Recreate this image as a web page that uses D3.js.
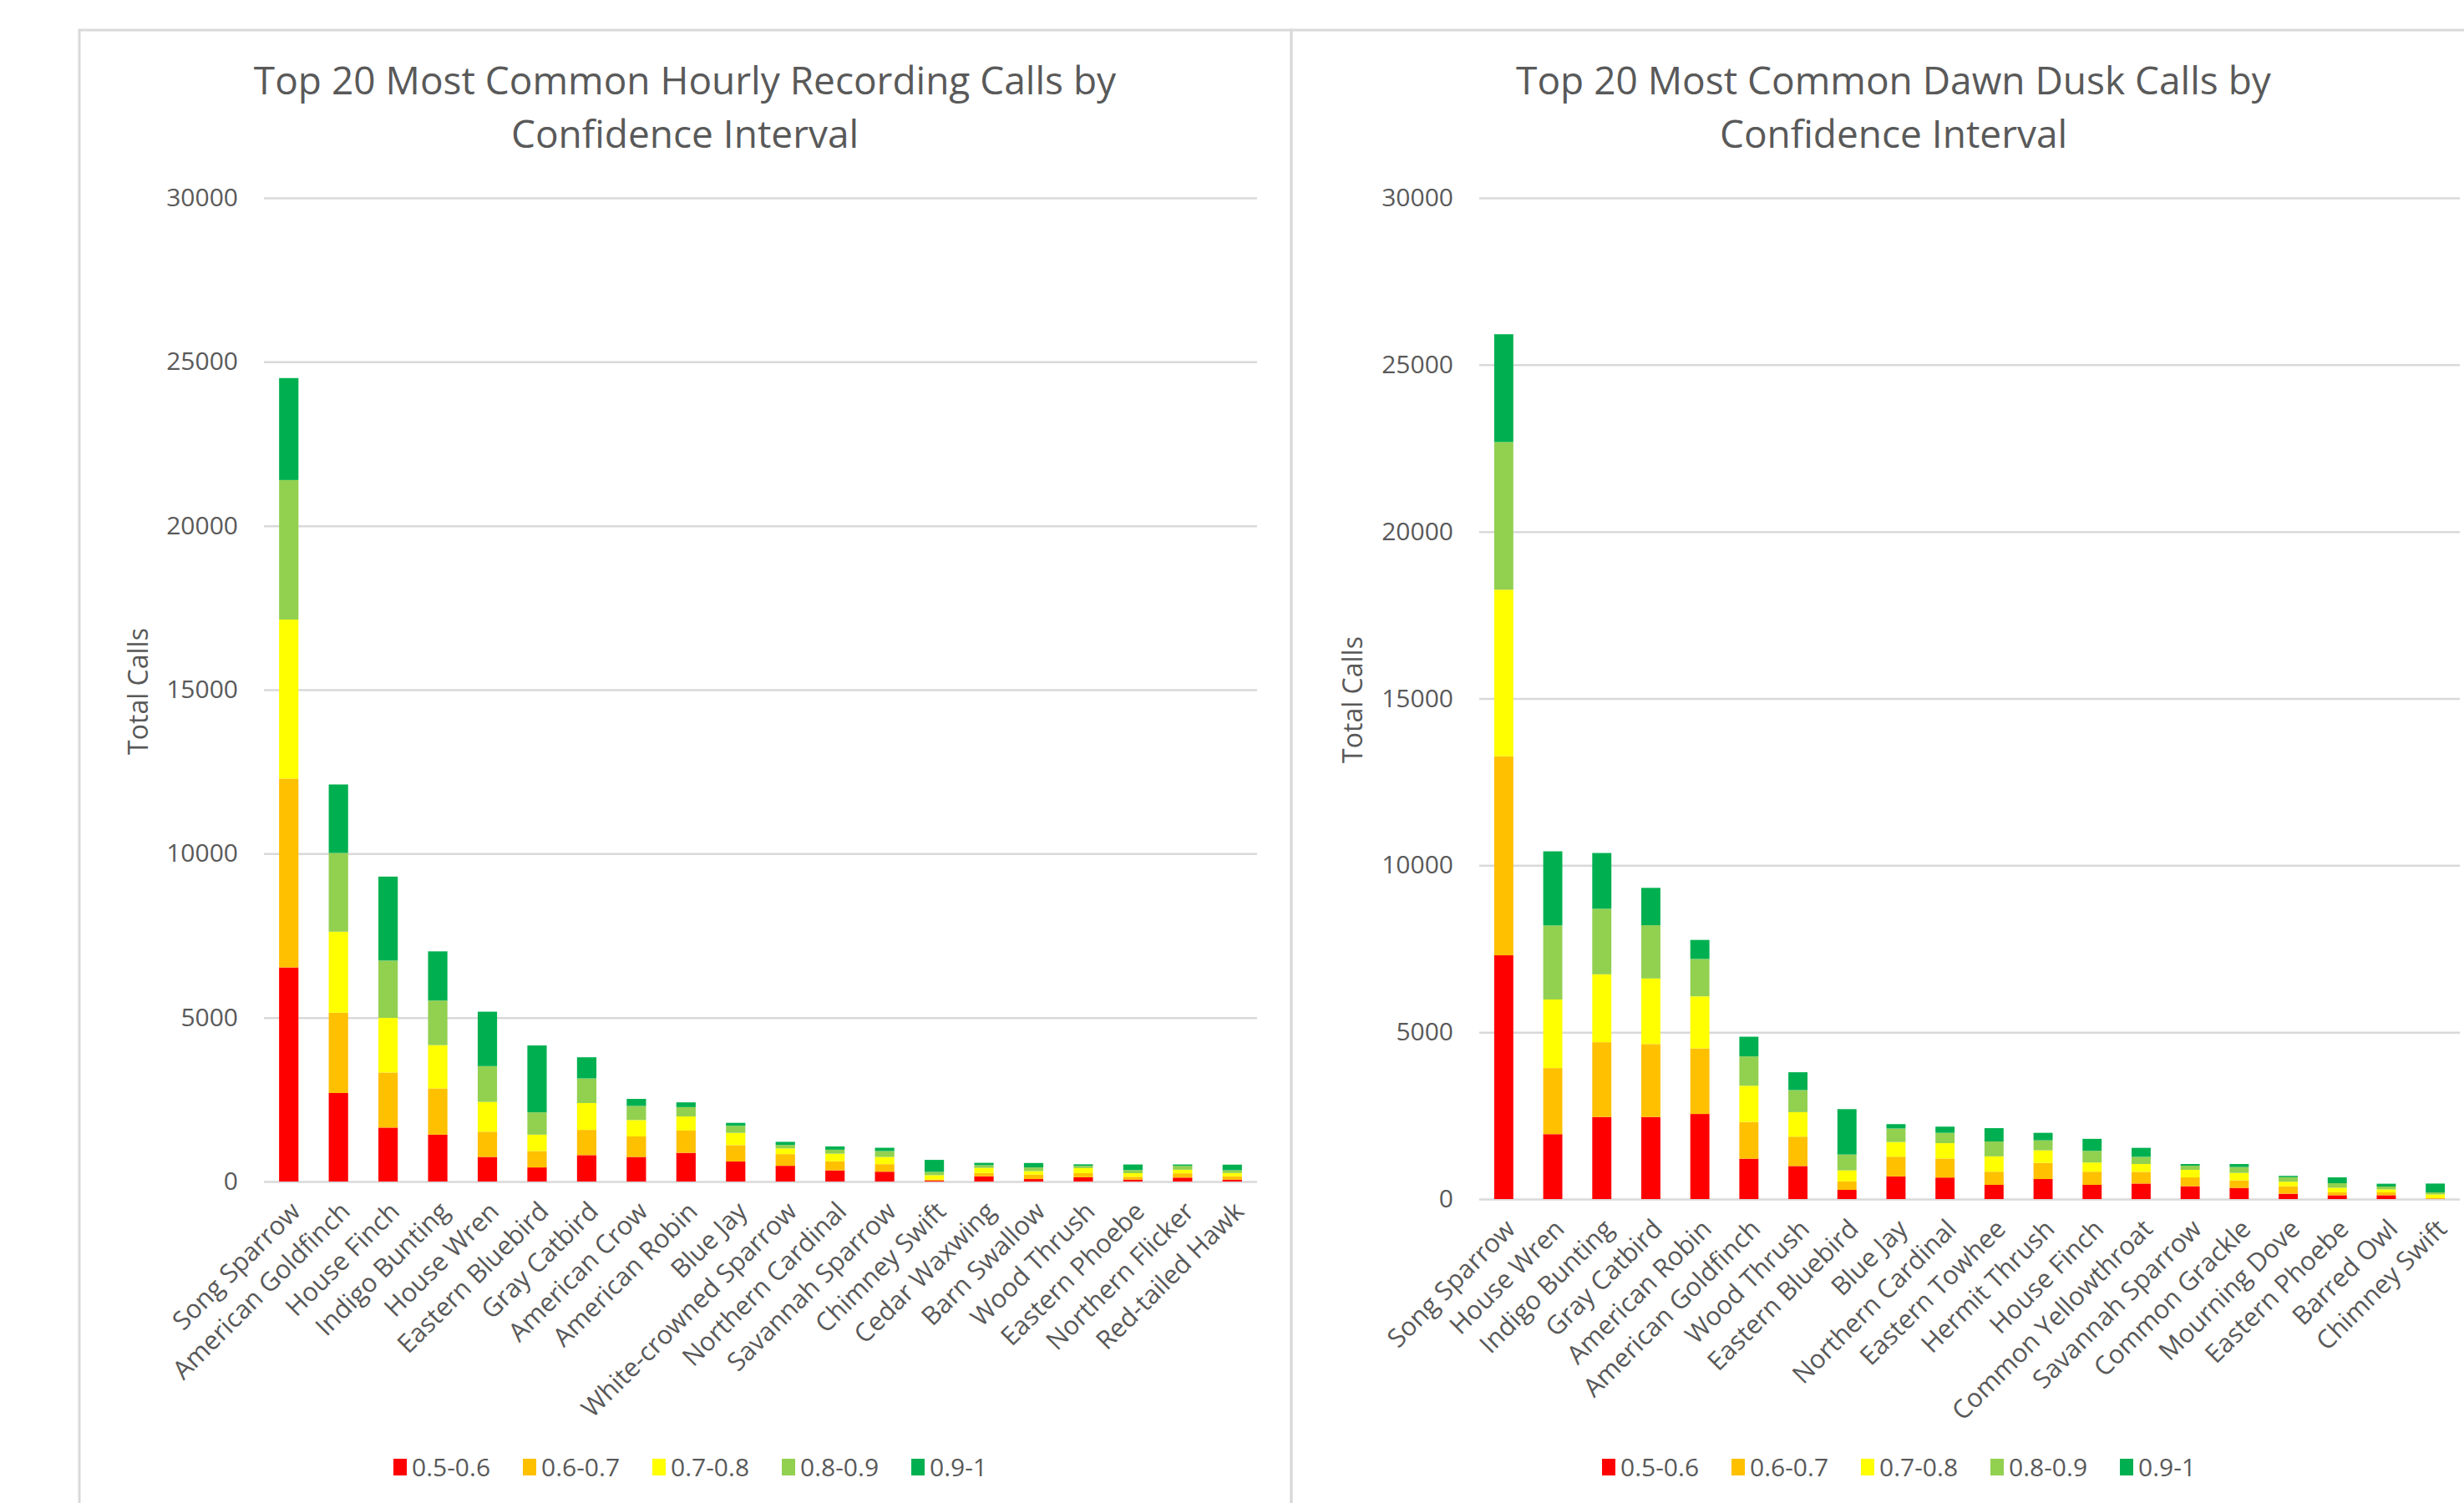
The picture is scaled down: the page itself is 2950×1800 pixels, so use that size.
<!DOCTYPE html>
<html>
<head>
<meta charset="utf-8">
<script src="https://cdn.jsdelivr.net/npm/d3@7"></script>
<style>
  body { margin: 0; background: #ffffff; }
  text { fill: #595959; }
</style>
</head>
<body>
<div id="charts"></div>
<script>
// confidence interval series + colours
var intervals = ["0.5-0.6", "0.6-0.7", "0.7-0.8", "0.8-0.9", "0.9-1"];
var intervalColors = ["#FF0000", "#FFC000", "#FFFF00", "#92D050", "#00B050"];
var yTicks = [0, 5000, 10000, 15000, 20000, 25000, 30000];

// hourly recordings
var hourlyBirds = ["Song Sparrow", "American Goldfinch", "House Finch", "Indigo Bunting", "House Wren",
  "Eastern Bluebird", "Gray Catbird", "American Crow", "American Robin", "Blue Jay",
  "White-crowned Sparrow", "Northern Cardinal", "Savannah Sparrow", "Chimney Swift", "Cedar Waxwing",
  "Barn Swallow", "Wood Thrush", "Eastern Phoebe", "Northern Flicker", "Red-tailed Hawk"];
var hourly05 = [6530, 2700, 1645, 1430, 750, 430, 805, 750, 875, 610, 480, 340, 300, 25, 160, 75, 130, 60, 120, 60];
var hourly06 = [5760, 2450, 1680, 1410, 770, 500, 770, 625, 680, 500, 356, 280, 230, 40, 100, 135, 125, 85, 130, 100];
var hourly07 = [4850, 2470, 1665, 1320, 910, 500, 820, 500, 430, 375, 175, 230, 220, 130, 155, 110, 155, 110, 110, 100];
var hourly08 = [4255, 2400, 1750, 1360, 1090, 680, 750, 430, 285, 215, 105, 120, 180, 100, 85, 110, 70, 95, 120, 85];
var hourly09 = [3110, 2090, 2560, 1500, 1660, 2040, 645, 215, 145, 90, 95, 100, 100, 365, 70, 135, 45, 170, 40, 170];

// dawn / dusk recordings
var dawnBirds = ["Song Sparrow", "House Wren", "Indigo Bunting", "Gray Catbird", "American Robin",
  "American Goldfinch", "Wood Thrush", "Eastern Bluebird", "Blue Jay", "Northern Cardinal",
  "Eastern Towhee", "Hermit Thrush", "House Finch", "Common Yellowthroat", "Savannah Sparrow",
  "Common Grackle", "Mourning Dove", "Eastern Phoebe", "Barred Owl", "Chimney Swift"];
var dawn05 = [7305, 1945, 2460, 2460, 2550, 1210, 990, 275, 680, 645, 425, 600, 425, 465, 385, 335, 160, 115, 115, 10];
var dawn06 = [5965, 1980, 2240, 2185, 1965, 1100, 880, 255, 590, 570, 395, 485, 395, 350, 265, 225, 225, 90, 85, 15];
var dawn07 = [4990, 2055, 2035, 1965, 1560, 1085, 735, 330, 440, 460, 460, 375, 275, 235, 225, 225, 135, 135, 90, 115];
var dawn08 = [4425, 2220, 1965, 1595, 1120, 880, 660, 475, 405, 310, 445, 300, 350, 215, 125, 175, 135, 135, 85, 60];
var dawn09 = [3230, 2220, 1670, 1120, 570, 590, 535, 1360, 130, 185, 400, 225, 360, 270, 50, 90, 40, 175, 85, 265];

var svgWidth = 2950;
var svgHeight = 1800;

var svg = d3.select("#charts")
  .append("svg")
  .attr("width", svgWidth)
  .attr("height", svgHeight)
  .style("font-family", "'Open Sans', sans-serif");

// turn the series lists into rows for d3.stack
function buildRows(birds, series) {
  return birds.map(function(b, i) {
    var row = {bird: b};
    intervals.forEach(function(k, j) { row[k] = series[j][i]; });
    return row;
  });
}

function drawChart(cfg) {
  var rows = buildRows(cfg.birds, cfg.series);

  // panel frame (runs off the page on the bottom / right like the screenshot)
  svg.append("rect")
    .attr("x", cfg.frameX)
    .attr("y", 36)
    .attr("width", cfg.frameW)
    .attr("height", 1900)
    .attr("fill", "none")
    .attr("stroke", "#d9d9d9")
    .attr("stroke-width", 3);

  // title
  var title = svg.append("text")
    .attr("text-anchor", "middle")
    .style("font-size", "46px")
    .style("font-weight", 400);
  title.append("tspan").attr("x", cfg.titleX).attr("y", 113).text(cfg.title[0]);
  title.append("tspan").attr("x", cfg.titleX).attr("y", 177).text(cfg.title[1]);

  var xScale = d3.scaleBand()
    .domain(cfg.birds)
    .range([cfg.left, cfg.right])
    .paddingInner(0.61)
    .paddingOuter(0.305);

  var yScale = d3.scaleLinear()
    .domain([0, 30000])
    .range([cfg.zeroY, cfg.topY]);

  // gridlines + y labels
  var leftAxis = d3.axisLeft(yScale)
    .tickValues(yTicks)
    .tickSize(-(cfg.right - cfg.left))
    .tickPadding(31)
    .tickFormat(d3.format("d"));

  var yAxis = svg.append("g")
    .attr("transform", `translate(${cfg.left}, 0)`)
    .call(leftAxis);
  yAxis.select(".domain").remove();
  yAxis.selectAll("line")
    .attr("stroke", "#d9d9d9")
    .attr("stroke-width", 2.5);
  yAxis.selectAll("text")
    .attr("font-family", "'Open Sans', sans-serif")
    .style("font-size", "30px")
    .style("fill", "#595959");

  // stacked bars
  var stacked = d3.stack().keys(intervals)(rows);
  svg.append("g").selectAll("g")
    .data(stacked)
    .enter()
    .append("g")
    .attr("fill", (d, i) => intervalColors[i])
    .selectAll("rect")
    .data(d => d)
    .enter()
    .append("rect")
    .attr("x", d => xScale(d.data.bird))
    .attr("y", d => yScale(d[1]))
    .attr("width", xScale.bandwidth())
    .attr("height", d => yScale(d[0]) - yScale(d[1]));

  // category labels, rotated
  var bottomAxis = d3.axisBottom(xScale).tickSize(0);
  var xAxis = svg.append("g")
    .attr("transform", `translate(0, ${cfg.zeroY})`)
    .call(bottomAxis);
  xAxis.select(".domain").remove();
  xAxis.selectAll("text")
    .attr("font-family", "'Open Sans', sans-serif")
    .attr("x", 0)
    .attr("y", 0)
    .attr("dy", "0.35em")
    .attr("transform", "translate(8, 30) rotate(-45)")
    .style("text-anchor", "end")
    .style("font-size", "31px")
    .style("fill", "#595959");

  // y axis title
  svg.append("text")
    .attr("transform", `translate(${cfg.yTitleX}, ${cfg.yTitleY}) rotate(-90)`)
    .attr("text-anchor", "middle")
    .attr("dy", "0.35em")
    .style("font-size", "32px")
    .text("Total Calls");

  // legend
  var legendStep = 155;
  var legendStart = cfg.legendX - 356;
  var legend = svg.append("g").selectAll("g")
    .data(intervals)
    .enter()
    .append("g")
    .attr("transform", (d, i) => `translate(${legendStart + i * legendStep}, 1757)`);
  legend.append("rect")
    .attr("x", 0)
    .attr("y", -10)
    .attr("width", 16)
    .attr("height", 20)
    .attr("fill", (d, i) => intervalColors[i]);
  legend.append("text")
    .attr("x", 22)
    .attr("dy", "0.35em")
    .style("font-size", "30px")
    .text(d => d);
}

drawChart({
  birds: hourlyBirds,
  series: [hourly05, hourly06, hourly07, hourly08, hourly09],
  title: ["Top 20 Most Common Hourly Recording Calls by", "Confidence Interval"],
  frameX: 95, frameW: 1451,
  left: 316, right: 1505, zeroY: 1415, topY: 237,
  titleX: 820, yTitleX: 166, yTitleY: 828, legendX: 827
});

drawChart({
  birds: dawnBirds,
  series: [dawn05, dawn06, dawn07, dawn08, dawn09],
  title: ["Top 20 Most Common Dawn Dusk Calls by", "Confidence Interval"],
  frameX: 1546, frameW: 1500,
  left: 1771, right: 2945, zeroY: 1436, topY: 237,
  titleX: 2267, yTitleX: 1620, yTitleY: 838, legendX: 2274
});
</script>
</body>
</html>
